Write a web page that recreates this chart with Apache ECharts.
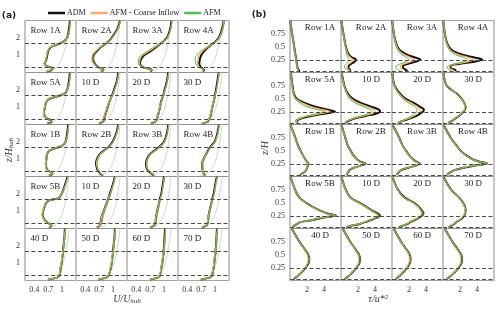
<!DOCTYPE html>
<html><head><meta charset="utf-8">
<script src="https://cdn.jsdelivr.net/npm/echarts@6/dist/echarts.min.js"></script>
<style>html,body{margin:0;padding:0;background:#fff}#c{width:500px;height:310px}</style>
</head><body><div id="c"></div>
<script>
// ---------- DATA ----------
const panelNames = ['Row 1A','Row 2A','Row 3A','Row 4A',
                    'Row 5A','10 D','20 D','30 D',
                    'Row 1B','Row 2B','Row 3B','Row 4B',
                    'Row 5B','10 D','20 D','30 D',
                    '40 D','50 D','60 D','70 D'];
const seriesNames = ['ADM','AFM - Coarse Inflow','AFM'];

// panel (a): z/H_hub levels and U/U_hub values
const zA = [0.06,0.15,0.25,0.35,0.5,0.75,1.0,1.25,1.45,1.6,1.75,2.0,2.5,3.0];
const zInflow = [0.05,0.1,0.2,0.3,0.5,0.75,1,1.5,2,2.5,3];
const uInflow = [0.68,0.76,0.84,0.88,0.94,0.99,1.02,1.07,1.1,1.13,1.15];
const admU = [
 [0.67,0.78,0.79,0.68,0.62,0.66,0.68,0.70,0.75,0.88,1.01,1.11,1.15,1.17],
 [0.74,0.79,0.72,0.66,0.61,0.57,0.58,0.66,0.73,0.81,0.88,0.97,1.09,1.15],
 [0.70,0.73,0.60,0.52,0.48,0.50,0.57,0.72,0.82,0.89,0.96,1.06,1.13,1.16],
 [0.74,0.76,0.72,0.68,0.66,0.67,0.70,0.77,0.85,0.92,0.99,1.08,1.15,1.19],
 [0.68,0.77,0.75,0.67,0.62,0.61,0.63,0.65,0.70,0.86,1.03,1.11,1.15,1.17],
 [0.70,0.77,0.80,0.81,0.82,0.85,0.88,0.91,0.94,0.96,0.99,1.02,1.08,1.11],
 [0.72,0.80,0.83,0.85,0.86,0.89,0.91,0.93,0.95,0.97,0.99,1.01,1.06,1.09],
 [0.72,0.83,0.86,0.88,0.90,0.92,0.94,0.96,0.98,0.99,1.00,1.02,1.05,1.08],
 [0.72,0.79,0.75,0.69,0.66,0.65,0.66,0.67,0.71,0.82,0.98,1.07,1.11,1.13],
 [0.78,0.74,0.70,0.67,0.65,0.63,0.65,0.70,0.78,0.86,0.92,0.99,1.07,1.11],
 [0.78,0.74,0.69,0.65,0.62,0.61,0.63,0.68,0.77,0.85,0.91,1.00,1.06,1.09],
 [0.78,0.76,0.74,0.73,0.72,0.72,0.75,0.80,0.84,0.87,0.91,0.99,1.05,1.08],
 [0.72,0.77,0.74,0.68,0.62,0.58,0.59,0.62,0.65,0.70,0.92,0.99,1.06,1.12],
 [0.65,0.70,0.72,0.73,0.74,0.76,0.80,0.83,0.86,0.88,0.90,0.93,0.99,1.04],
 [0.70,0.77,0.80,0.81,0.82,0.83,0.85,0.87,0.89,0.90,0.91,0.94,0.97,1.00],
 [0.72,0.80,0.83,0.84,0.85,0.86,0.88,0.90,0.92,0.93,0.94,0.97,1.00,1.04],
 [0.70,0.88,0.93,0.95,0.96,0.97,0.99,1.00,1.01,1.02,1.02,1.03,1.05,1.06],
 [0.68,0.84,0.89,0.91,0.93,0.95,0.97,0.98,0.99,1.00,1.00,1.01,1.03,1.04],
 [0.70,0.85,0.90,0.91,0.93,0.94,0.96,0.97,0.98,0.99,0.99,1.00,1.01,1.02],
 [0.69,0.86,0.92,0.94,0.95,0.97,0.98,0.99,1.00,1.01,1.01,1.02,1.03,1.04]];
const afmcU = [
 [0.65,0.76,0.78,0.67,0.61,0.65,0.67,0.69,0.74,0.86,1.00,1.11,1.16,1.18],
 [0.73,0.78,0.70,0.64,0.58,0.54,0.55,0.63,0.71,0.80,0.88,0.98,1.10,1.16],
 [0.69,0.72,0.59,0.51,0.47,0.48,0.54,0.69,0.80,0.88,0.96,1.07,1.14,1.17],
 [0.73,0.75,0.70,0.65,0.62,0.63,0.66,0.74,0.84,0.92,1.00,1.09,1.16,1.19],
 [0.67,0.76,0.74,0.66,0.61,0.60,0.62,0.64,0.69,0.84,1.02,1.11,1.16,1.18],
 [0.69,0.76,0.79,0.80,0.81,0.84,0.87,0.90,0.93,0.96,0.99,1.03,1.09,1.12],
 [0.71,0.79,0.82,0.84,0.86,0.88,0.90,0.93,0.95,0.97,0.99,1.02,1.07,1.10],
 [0.71,0.82,0.85,0.87,0.89,0.91,0.93,0.95,0.97,0.99,1.00,1.03,1.06,1.09],
 [0.71,0.78,0.74,0.68,0.65,0.64,0.65,0.66,0.70,0.80,0.97,1.07,1.12,1.14],
 [0.77,0.75,0.71,0.68,0.66,0.64,0.66,0.71,0.79,0.87,0.93,1.00,1.08,1.12],
 [0.77,0.75,0.70,0.66,0.63,0.62,0.64,0.69,0.78,0.86,0.92,1.01,1.07,1.10],
 [0.77,0.76,0.74,0.73,0.72,0.72,0.75,0.80,0.85,0.88,0.92,1.00,1.06,1.09],
 [0.71,0.76,0.73,0.67,0.61,0.57,0.58,0.61,0.64,0.69,0.91,0.99,1.07,1.13],
 [0.64,0.70,0.72,0.73,0.74,0.76,0.80,0.83,0.86,0.88,0.90,0.94,1.00,1.05],
 [0.69,0.76,0.79,0.80,0.81,0.83,0.85,0.87,0.89,0.90,0.92,0.95,0.98,1.01],
 [0.71,0.79,0.82,0.83,0.84,0.86,0.88,0.90,0.92,0.93,0.95,0.98,1.01,1.05],
 [0.69,0.87,0.92,0.94,0.95,0.96,0.98,0.99,1.00,1.01,1.02,1.03,1.05,1.07],
 [0.67,0.83,0.88,0.90,0.92,0.94,0.96,0.97,0.98,0.99,1.00,1.01,1.03,1.05],
 [0.69,0.84,0.89,0.90,0.92,0.93,0.95,0.96,0.97,0.98,0.99,1.00,1.02,1.03],
 [0.68,0.85,0.91,0.93,0.94,0.96,0.97,0.98,0.99,1.00,1.01,1.02,1.03,1.05]];
const afmU = [
 [0.68,0.79,0.80,0.69,0.63,0.66,0.68,0.70,0.76,0.89,1.02,1.12,1.16,1.18],
 [0.75,0.80,0.73,0.67,0.62,0.58,0.59,0.67,0.74,0.82,0.89,0.98,1.10,1.16],
 [0.71,0.74,0.58,0.49,0.45,0.45,0.51,0.66,0.77,0.86,0.95,1.07,1.14,1.17],
 [0.74,0.75,0.68,0.62,0.59,0.57,0.60,0.70,0.82,0.91,1.00,1.10,1.17,1.20],
 [0.69,0.78,0.76,0.68,0.63,0.62,0.64,0.66,0.71,0.87,1.04,1.12,1.16,1.18],
 [0.72,0.79,0.82,0.83,0.84,0.87,0.90,0.92,0.95,0.97,1.00,1.03,1.09,1.12],
 [0.73,0.81,0.84,0.86,0.88,0.90,0.92,0.94,0.96,0.98,1.00,1.02,1.07,1.10],
 [0.73,0.84,0.87,0.89,0.91,0.93,0.95,0.97,0.99,1.00,1.01,1.03,1.06,1.09],
 [0.73,0.80,0.76,0.70,0.67,0.66,0.67,0.68,0.72,0.83,0.99,1.08,1.12,1.14],
 [0.79,0.76,0.72,0.69,0.67,0.66,0.68,0.72,0.80,0.87,0.93,1.00,1.08,1.12],
 [0.79,0.76,0.71,0.67,0.64,0.63,0.65,0.70,0.79,0.86,0.92,1.01,1.07,1.10],
 [0.79,0.78,0.76,0.75,0.74,0.74,0.77,0.81,0.85,0.88,0.92,1.00,1.06,1.09],
 [0.73,0.78,0.75,0.69,0.63,0.59,0.60,0.63,0.66,0.71,0.93,1.00,1.07,1.13],
 [0.67,0.73,0.75,0.76,0.77,0.79,0.82,0.85,0.88,0.90,0.92,0.95,1.00,1.05],
 [0.72,0.79,0.82,0.83,0.84,0.85,0.87,0.89,0.90,0.91,0.93,0.95,0.98,1.01],
 [0.73,0.81,0.84,0.85,0.86,0.87,0.89,0.91,0.93,0.94,0.95,0.98,1.01,1.05],
 [0.71,0.89,0.94,0.96,0.97,0.98,1.00,1.01,1.02,1.03,1.03,1.04,1.06,1.07],
 [0.69,0.85,0.90,0.92,0.94,0.96,0.98,0.99,1.00,1.01,1.01,1.02,1.04,1.05],
 [0.71,0.86,0.91,0.92,0.94,0.95,0.97,0.98,0.99,1.00,1.00,1.01,1.02,1.03],
 [0.70,0.87,0.93,0.95,0.96,0.98,0.99,1.00,1.01,1.02,1.02,1.03,1.04,1.05]];

// panel (b): z/H levels and tau/u*^2 values
const zB = [0.04,0.07,0.1,0.14,0.18,0.22,0.26,0.3,0.35,0.42,0.5,0.6,0.75,1.0];
const admTau = [
 [1.10,1.00,0.88,0.84,0.80,0.77,0.73,0.69,0.64,0.57,0.49,0.40,0.25,0.03],
 [1.05,1.05,0.88,0.90,1.20,1.60,1.75,1.30,0.95,0.72,0.58,0.45,0.28,0.04],
 [1.80,1.60,1.30,1.30,1.90,2.80,3.35,2.70,1.80,1.05,0.65,0.42,0.22,0.03],
 [1.50,1.40,0.90,0.90,2.00,3.70,4.60,3.70,2.30,1.20,0.70,0.42,0.22,0.03],
 [0.80,0.80,0.90,1.60,2.60,4.00,5.30,4.30,3.00,1.80,0.80,0.45,0.30,0.10],
 [0.50,0.70,1.10,1.90,3.00,4.10,4.60,4.40,3.60,2.40,1.40,0.80,0.40,0.08],
 [0.70,1.00,1.60,2.30,2.90,3.30,3.65,3.75,3.30,2.60,1.60,0.95,0.30,0.05],
 [0.60,0.90,1.20,1.55,1.90,2.15,2.40,2.60,2.65,2.50,2.20,1.60,0.45,0.05],
 [1.15,1.40,1.70,1.90,2.00,2.10,2.15,1.95,1.75,1.50,1.25,0.95,0.62,0.05],
 [0.65,0.75,0.85,1.00,1.50,2.30,2.90,2.20,1.80,1.45,1.15,0.80,0.50,0.05],
 [0.60,0.65,0.80,1.10,1.90,2.70,3.25,2.80,2.40,2.00,1.65,1.25,0.85,0.05],
 [0.50,0.65,0.90,1.40,2.40,3.60,5.20,4.20,3.40,2.70,2.10,1.60,0.90,0.05],
 [0.30,0.50,0.80,1.30,2.80,3.80,5.40,4.40,3.60,2.70,1.90,1.10,0.60,0.05],
 [0.60,1.30,2.20,2.90,3.60,4.20,4.60,4.30,3.70,3.00,2.20,1.10,0.55,0.05],
 [0.80,1.30,1.80,2.20,2.70,3.20,3.55,3.70,3.55,3.20,2.60,1.50,0.70,0.05],
 [0.65,1.00,1.30,1.60,2.00,2.30,2.50,2.60,2.65,2.60,2.35,1.90,0.95,0.05],
 [0.40,0.65,0.90,1.15,1.40,1.65,1.85,2.00,2.20,2.27,2.15,1.75,1.10,0.20],
 [0.40,0.65,0.90,1.15,1.40,1.63,1.83,1.98,2.17,2.24,2.12,1.72,1.08,0.20],
 [0.40,0.64,0.88,1.12,1.37,1.60,1.80,1.95,2.12,2.18,2.08,1.70,1.06,0.20],
 [0.40,0.65,0.90,1.15,1.40,1.65,1.85,2.00,2.18,2.25,2.14,1.74,1.10,0.20]];
const afmcTau = [
 [1.00,0.95,0.85,0.82,0.79,0.76,0.72,0.68,0.63,0.56,0.48,0.39,0.25,0.03],
 [1.00,0.95,0.72,0.72,0.95,1.30,1.40,1.10,0.85,0.68,0.56,0.44,0.27,0.04],
 [1.50,1.30,1.00,1.00,1.50,2.20,2.60,2.15,1.50,0.90,0.60,0.40,0.22,0.03],
 [1.30,1.10,0.75,0.80,1.70,3.00,3.70,3.00,1.90,1.00,0.62,0.40,0.22,0.03],
 [0.80,0.75,0.85,1.40,2.30,3.60,4.70,3.70,2.50,1.50,0.70,0.42,0.28,0.10],
 [0.50,0.65,1.00,1.70,2.70,3.60,4.00,3.80,3.10,2.00,1.20,0.72,0.38,0.08],
 [0.65,0.95,1.50,2.10,2.60,3.00,3.30,3.35,3.00,2.30,1.45,0.85,0.28,0.05],
 [0.60,0.88,1.18,1.50,1.85,2.10,2.35,2.52,2.58,2.45,2.15,1.55,0.45,0.05],
 [1.12,1.38,1.65,1.85,1.97,2.07,2.10,1.92,1.72,1.48,1.23,0.93,0.60,0.05],
 [0.63,0.72,0.82,0.98,1.45,2.20,2.80,2.15,1.77,1.43,1.13,0.79,0.49,0.05],
 [0.58,0.63,0.78,1.08,1.85,2.60,3.15,2.75,2.37,1.97,1.62,1.23,0.84,0.05],
 [0.50,0.63,0.88,1.37,2.35,3.50,5.05,4.10,3.35,2.65,2.08,1.58,0.88,0.05],
 [0.30,0.50,0.78,1.27,2.70,3.70,5.25,4.30,3.50,2.65,1.87,1.08,0.60,0.05],
 [0.58,1.25,2.10,2.75,3.40,3.95,4.30,4.05,3.50,2.85,2.10,1.05,0.53,0.05],
 [0.78,1.25,1.72,2.10,2.55,3.00,3.35,3.45,3.35,3.05,2.50,1.45,0.68,0.05],
 [0.63,0.97,1.25,1.55,1.92,2.22,2.42,2.52,2.57,2.53,2.30,1.86,0.93,0.05],
 [0.38,0.62,0.85,1.10,1.33,1.57,1.76,1.90,2.08,2.12,2.02,1.68,1.07,0.20],
 [0.38,0.62,0.86,1.10,1.33,1.55,1.74,1.88,2.05,2.10,2.00,1.65,1.05,0.20],
 [0.38,0.61,0.84,1.07,1.30,1.52,1.71,1.85,2.00,2.05,1.97,1.63,1.03,0.20],
 [0.38,0.62,0.86,1.10,1.33,1.57,1.76,1.90,2.06,2.11,2.02,1.67,1.07,0.20]];
const afmTau = [
 [0.90,0.90,0.85,0.82,0.79,0.76,0.72,0.68,0.63,0.56,0.48,0.39,0.25,0.03],
 [0.90,0.80,0.45,0.42,0.60,0.85,0.95,0.80,0.68,0.60,0.52,0.42,0.26,0.04],
 [1.00,0.70,0.45,0.50,1.00,1.60,2.00,1.70,1.20,0.75,0.50,0.36,0.20,0.03],
 [1.00,0.70,0.50,0.60,1.40,2.40,2.90,2.40,1.50,0.85,0.55,0.36,0.20,0.03],
 [0.70,0.60,0.70,1.20,2.00,3.10,4.10,3.10,2.00,1.20,0.60,0.40,0.27,0.10],
 [0.45,0.60,0.90,1.50,2.40,3.20,3.60,3.40,2.70,1.70,1.00,0.65,0.35,0.08],
 [0.60,0.90,1.40,1.90,2.35,2.70,2.90,2.95,2.70,2.00,1.30,0.75,0.25,0.05],
 [0.62,0.92,1.22,1.58,1.93,2.20,2.45,2.63,2.68,2.53,2.23,1.63,0.47,0.05],
 [1.17,1.42,1.72,1.92,2.02,2.12,2.18,1.97,1.77,1.52,1.27,0.96,0.63,0.05],
 [0.66,0.76,0.86,1.02,1.52,2.33,2.95,2.22,1.82,1.46,1.16,0.81,0.51,0.05],
 [0.61,0.66,0.81,1.12,1.93,2.73,3.30,2.83,2.42,2.02,1.66,1.26,0.86,0.05],
 [0.51,0.66,0.91,1.42,2.43,3.65,5.25,4.23,3.42,2.72,2.12,1.61,0.91,0.05],
 [0.31,0.51,0.81,1.32,2.83,3.85,5.45,4.43,3.62,2.72,1.92,1.12,0.61,0.05],
 [0.62,1.32,2.22,2.92,3.62,4.22,4.60,4.30,3.72,3.02,2.22,1.12,0.56,0.05],
 [0.81,1.32,1.82,2.22,2.72,3.22,3.55,3.68,3.55,3.20,2.60,1.50,0.70,0.05],
 [0.66,1.01,1.32,1.62,2.02,2.32,2.52,2.62,2.67,2.62,2.37,1.92,0.96,0.05],
 [0.41,0.66,0.91,1.16,1.42,1.67,1.87,2.02,2.22,2.29,2.17,1.77,1.11,0.20],
 [0.41,0.66,0.91,1.16,1.42,1.65,1.85,2.00,2.19,2.26,2.14,1.74,1.09,0.20],
 [0.41,0.65,0.89,1.13,1.38,1.62,1.82,1.97,2.14,2.20,2.10,1.72,1.07,0.20],
 [0.41,0.66,0.91,1.16,1.42,1.67,1.87,2.02,2.20,2.27,2.16,1.76,1.11,0.20]];

// axis ticks and rotor lines
const ticksUA = [0.4, 0.7, 1];
const ticksZA = [1, 2];
const ticksTau = [2, 4];
const ticksZB = [0.25, 0.5, 0.75];
const rotorZA = [0.29, 1.71];
const rotorZB = [0.042, 0.25];

// ---------- LAYOUT / STYLE ----------
const COL_A = 25, COL_B = 290, COL_W = 51, ROW_TOP = 20.5, ROW_H = 52;
const SERIF = '"Liberation Serif", "DejaVu Serif", serif';
const COLORS = ['#111111', '#ffa860', '#4fbf4f'];
const WIDTHS = [2, 1.2, 1.0];

const grids = [], xAxes = [], yAxes = [], series = [], graphics = [];
const dash = {silent: true, symbol: ['none','none'], label: {show: false},
  lineStyle: {type: [4, 2.5], color: '#4a4a4a', width: 1}, emphasis: {disabled: true}};
const sideLine = {show: true, onZero: false, lineStyle: {color: '#c4c4c4', width: 2}};

function axisLabel(show, vals) {
  return {show: show, customValues: vals, fontSize: 8, fontFamily: SERIF, color: '#333', margin: 5};
}

function addPanel(kind, p) {
  const r = Math.floor(p / 4), c = p % 4;
  const isA = kind === 'a';
  const left = (isA ? COL_A : COL_B) + c * COL_W;
  const top = ROW_TOP + r * ROW_H;
  const g = grids.length;
  grids.push({left: left, top: top, width: COL_W, height: ROW_H, show: true,
    borderColor: '#8c8c8c', borderWidth: 0.8, outerBoundsMode: 'none', containLabel: false});
  xAxes.push({gridIndex: g, type: 'value', min: isA ? 0.2 : 0, max: isA ? 1.3 : 6,
    axisLine: {show: false}, axisTick: {show: false}, splitLine: {show: false},
    axisLabel: axisLabel(r === 4, isA ? ticksUA : ticksTau)});
  const yi = yAxes.length;
  const yMin = isA ? 0 : 0.015, yMax = isA ? 3 : 1;
  yAxes.push({gridIndex: g, type: 'value', min: yMin, max: yMax, position: 'left',
    axisLine: sideLine, axisTick: {show: false}, splitLine: {show: false},
    axisLabel: axisLabel(c === 0, isA ? ticksZA : ticksZB)});
  if (c === 3) {
    yAxes.push({gridIndex: g, type: 'value', min: yMin, max: yMax, position: 'right',
      axisLine: sideLine, axisTick: {show: false}, splitLine: {show: false}, axisLabel: {show: false}});
  }
  const base = {type: 'line', xAxisIndex: g, yAxisIndex: yi, showSymbol: false, symbol: 'none',
    smooth: 0.35, silent: true, animation: false, clip: true};
  if (isA) {
    series.push(Object.assign({}, base, {
      data: zInflow.map((z, k) => [uInflow[k], z]),
      lineStyle: {color: '#c6c6c6', width: 0.8},
      markLine: Object.assign({}, dash, {data: rotorZA.map(v => ({yAxis: v}))})
    }));
  }
  const sets = isA ? [admU, afmcU, afmU] : [admTau, afmcTau, afmTau];
  const zs = isA ? zA : zB;
  sets.forEach((set, s) => {
    const sObj = Object.assign({}, base, {
      name: seriesNames[s],
      data: zs.map((z, k) => [set[p][k], z]),
      lineStyle: {color: COLORS[s], width: WIDTHS[s]},
      itemStyle: {color: COLORS[s]}
    });
    if (!isA && s === 0) sObj.markLine = Object.assign({}, dash, {data: rotorZB.map(v => ({yAxis: v}))});
    series.push(sObj);
  });
  graphics.push({type: 'text', silent: true,
    x: isA ? left + 5.5 : left + 30, y: isA ? top + 10.5 : top + 7,
    style: {text: panelNames[p], font: '9px ' + SERIF, fill: '#222',
      align: isA ? 'left' : 'center', verticalAlign: 'middle'}});
}

for (let p = 0; p < 20; p++) addPanel('a', p);
for (let p = 0; p < 20; p++) addPanel('b', p);

const richT = {
  i: {fontFamily: SERIF, fontStyle: 'italic', fontSize: 10, fill: '#333'},
  s: {fontFamily: SERIF, fontStyle: 'italic', fontSize: 7, fill: '#333', padding: [5, 0, 0, 0]}
};
graphics.push(
  {type: 'text', x: 9, y: 15.5, silent: true, style: {text: '(a)', font: 'bold 9px "DejaVu Sans", sans-serif', fill: '#222', align: 'center', verticalAlign: 'middle'}},
  {type: 'text', x: 259, y: 14.5, silent: true, style: {text: '(b)', font: 'bold 9px "DejaVu Sans", sans-serif', fill: '#222', align: 'center', verticalAlign: 'middle'}},
  {type: 'text', x: 9, y: 150, rotation: Math.PI / 2, silent: true, style: {text: '{i|z/H}{s|hub}', rich: richT, align: 'center', verticalAlign: 'middle'}},
  {type: 'text', x: 127, y: 299, silent: true, style: {text: '{i|U/U}{s|hub}', rich: richT, align: 'center', verticalAlign: 'middle'}},
  {type: 'text', x: 265, y: 148, rotation: Math.PI / 2, silent: true, style: {text: '{i|z/H}', rich: richT, align: 'center', verticalAlign: 'middle'}},
  {type: 'text', x: 378, y: 299, silent: true, style: {text: '{i|τ/u*²}', rich: richT, align: 'center', verticalAlign: 'middle'}}
);

const chart = echarts.init(document.getElementById('c'), null, {renderer: 'canvas'});
chart.setOption({
  animation: false,
  backgroundColor: '#ffffff',
  legend: {top: 4, left: 43, itemWidth: 17, itemHeight: 2.5, itemGap: 5, icon: 'rect',
    selectedMode: false, data: seriesNames,
    textStyle: {fontSize: 8, fontFamily: SERIF, color: '#222', padding: [0, 0, 0, -3]}},
  grid: grids, xAxis: xAxes, yAxis: yAxes, series: series,
  graphic: {elements: graphics}
});
</script></body></html>
